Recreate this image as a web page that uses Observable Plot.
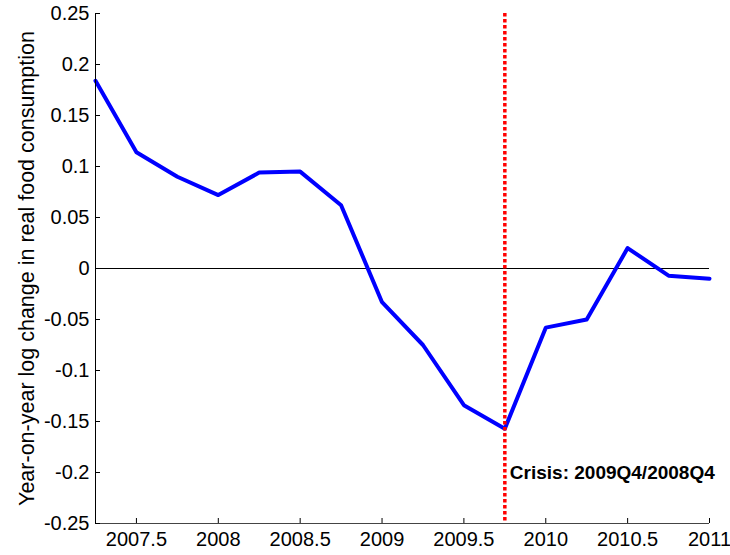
<!DOCTYPE html>
<html>
<head>
<meta charset="utf-8">
<script src="https://cdn.jsdelivr.net/npm/d3@7"></script>
<script src="https://cdn.jsdelivr.net/npm/@observablehq/plot@0.6"></script>
<style>
  html, body { margin: 0; padding: 0; background: #fff; }
</style>
</head>
<body>
<div id="chart"></div>
<script>
const quarters = [2007.25, 2007.5, 2007.75, 2008, 2008.25, 2008.5, 2008.75, 2009, 2009.25, 2009.5, 2009.75, 2010, 2010.25, 2010.5, 2010.75, 2011];
const consumption = [0.184, 0.114, 0.090, 0.072, 0.094, 0.095, 0.062, -0.033, -0.075, -0.134, -0.157, -0.058, -0.050, 0.020, -0.007, -0.010];
const xTicks = [2007.5, 2008, 2008.5, 2009, 2009.5, 2010, 2010.5, 2011];
const yTicks = [0.25, 0.2, 0.15, 0.1, 0.05, 0, -0.05, -0.1, -0.15, -0.2, -0.25];
const crisisX = [2009.75];
const crisisLabel = ["Crisis: 2009Q4/2008Q4"];
const crisisLabelY = [-0.2];
const yLabel = "Year-on-year log change in real food consumption";

const data = quarters.map((q, i) => ({x: q, y: consumption[i]}));
const fmt = d => String(+(+d).toFixed(2));

const W = 730, H = 555, mL = 95, mR = 21, mT = 13, mB = 32;
const pw = W - mL - mR, ph = H - mT - mB;

const chart = Plot.plot({
  width: W,
  height: H,
  marginLeft: mL,
  marginRight: mR,
  marginTop: mT,
  marginBottom: mB,
  style: {fontFamily: "'Liberation Sans', Arial, sans-serif", background: "#fff", color: "#000"},
  x: {domain: [2007.25, 2011]},
  y: {domain: [-0.25, 0.25]},
  marks: [
    Plot.ruleY([0], {stroke: "#000", strokeWidth: 1}),
    Plot.line(data, {x: "x", y: "y", stroke: "#0000ff", strokeWidth: 4}),
    Plot.ruleX(crisisX, {stroke: "#ff0000", strokeWidth: 3.5, strokeDasharray: "3.5,2.5"}),
    Plot.text(crisisLabel, {x: () => crisisX[0], y: () => crisisLabelY[0], text: d => d, textAnchor: "start", dx: 5, fontWeight: "bold", fontSize: 19, fill: "#000"}),
    Plot.ruleX([2007.25], {stroke: "#000", strokeWidth: 1}),
    Plot.ruleY([-0.25], {stroke: "#444", strokeWidth: 1.2}),
    Plot.tickX(xTicks, {x: d => d, insetTop: ph - 5, stroke: "#000"}),
    Plot.tickY(yTicks, {y: d => d, insetRight: pw - 5, stroke: "#000"}),
    Plot.axisX({ticks: xTicks, tickSize: 0, tickPadding: 8, tickFormat: fmt, fontSize: 20, label: null}),
    Plot.axisY({ticks: yTicks, tickSize: 0, tickPadding: 6, tickFormat: fmt, fontSize: 20, label: null}),
    Plot.text([yLabel], {frameAnchor: "left", rotate: -90, dx: -68, text: d => d, fontSize: 21.5, textAnchor: "middle", fill: "#000"})
  ]
});
document.getElementById("chart").appendChild(chart);
</script>
</body>
</html>
